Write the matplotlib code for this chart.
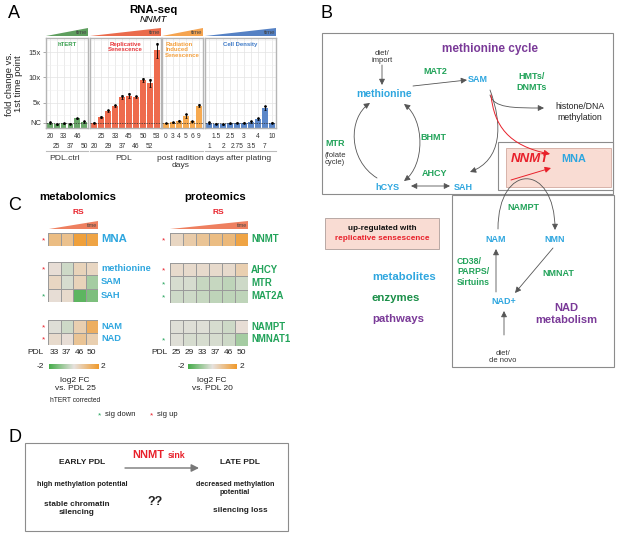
import numpy as np
import matplotlib
matplotlib.use("Agg")
import matplotlib.pyplot as plt
from matplotlib.patches import Polygon, Rectangle, FancyArrowPatch
from matplotlib.path import Path
from matplotlib.colors import LinearSegmentedColormap, Normalize
from matplotlib.cm import ScalarMappable

plt.rcParams['font.family'] = ['Liberation Sans', 'DejaVu Sans']

W, H = 617, 533

# ---- panel A data (fold change vs 1st time point)
htert_lab = ["20", "25", "33", "37", "46", "50"]
htert_fc = [1.0, 0.7, 0.9, 0.8, 1.9, 1.2]
htert_err = [0.15, 0.1, 0.1, 0.1, 0.15, 0.15]
rs_lab = ["20", "25", "29", "33", "37", "45", "46", "50", "52", "53"]
rs_fc = [1.0, 2.1, 3.4, 4.3, 6.1, 6.4, 6.2, 9.4, 8.9, 15.4]
rs_err = [0.1, 0.2, 0.2, 0.2, 0.4, 0.5, 0.2, 0.4, 0.8, 1.5]
rad_lab = ["0", "3", "4", "5", "6", "9"]
rad_fc = [1.0, 1.1, 1.4, 2.4, 1.3, 4.4]
rad_err = [0.05, 0.1, 0.1, 0.4, 0.1, 0.3]
cd_lab = ["1", "1.5", "2", "2.5", "2.75", "3", "3.5", "4", "7", "10"]
cd_fc = [1.0, 0.8, 0.7, 0.9, 1.0, 1.0, 1.2, 1.8, 4.0, 1.0]
cd_err = [0.15, 0.1, 0.1, 0.1, 0.1, 0.1, 0.15, 0.2, 0.4, 0.1]

# ---- panel C data (log2 FC)
met_pdl = ["33", "37", "46", "50"]
met_mna = [[1.0, 0.9, 1.8, 1.7]]
met_cycle = [[0.1, -0.3, 0.4, 0.3],
             [0.3, -0.2, 0.4, -0.8],
             [0.1, 0.2, -1.7, -1.3]]
met_nad = [[-0.1, -0.3, 0.5, 1.4],
           [0.2, 0.1, 0.8, 0.5]]
prot_pdl = ["25", "29", "33", "37", "46", "50"]
prot_nnmt = [[0.3, 0.6, 0.8, 1.0, 1.1, 1.7]]
prot_cycle = [[0.2, 0.2, 0.2, 0.2, 0.2, 0.5],
              [-0.2, -0.2, -0.4, -0.4, -0.5, -0.3],
              [-0.3, -0.3, -0.4, -0.5, -0.5, -0.5]]
prot_nad = [[-0.1, -0.1, -0.1, -0.2, -0.3, 0.1],
            [-0.1, -0.2, -0.2, -0.2, -0.3, -0.8]]

BLUE = '#2ea6df'
GREEN = '#22a35a'
PURPLE = '#7a3a98'
RED = '#e8202a'
PINK = '#f9dcd3'
GREY = '#555555'

fig = plt.figure(figsize=(W / 100, H / 100), dpi=100)
ov = fig.add_axes([0, 0, 1, 1])
ov.set_xlim(0, W)
ov.set_ylim(H, 0)
ov.axis('off')


def px_axes(x0, y0, x1, y1):
    return fig.add_axes([x0 / W, 1 - y1 / H, (x1 - x0) / W, (y1 - y0) / H])


def arr(p0, p1, ctrl=None, color=GREY, style='-|>', lw=0.6, ms=7):
    st = style + ',head_length=0.5,head_width=0.25'
    if ctrl is None:
        a = FancyArrowPatch(p0, p1, arrowstyle=st, mutation_scale=ms,
                            color=color, lw=lw, shrinkA=0, shrinkB=0, zorder=4)
    else:
        path = Path([p0, ctrl[0], ctrl[1], p1],
                    [Path.MOVETO, Path.CURVE4, Path.CURVE4, Path.CURVE4])
        a = FancyArrowPatch(path=path, arrowstyle=st, mutation_scale=ms,
                            color=color, lw=lw, zorder=4)
    ov.add_patch(a)


def wedge(x0, x1, y0, y1, col, label=True):
    ov.add_patch(Polygon([(x0, y1), (x1, y1), (x1, y0)], closed=True,
                         facecolor=col, edgecolor='none'))
    if label:
        ov.text(x1 - 1, y1 - 1, 'time', fontsize=4.3, ha='right', va='bottom',
                color='#444444')


# ================= A =================
ov.text(8, 13, 'A', fontsize=13, va='center')
ov.text(153, 10, 'RNA-seq', fontsize=8.2, fontweight='bold', ha='center', va='center')
ov.text(153, 19, 'NNMT', fontsize=6.8, style='italic', ha='center', va='center')
ov.text(14, 84, 'fold change vs.\n1st time point', fontsize=6.8, rotation=90,
        ha='center', va='center', linespacing=1.1, color='#222222')

facets = [
    (46, 88, htert_lab, htert_fc, htert_err, '#6aa86a', '#5e9e5e', 'hTERT', '#3aa050', 'PDL.ctrl', 'alt0'),
    (90, 161, rs_lab, rs_fc, rs_err, '#ee6b4d', '#ea6b4c', 'Replicative\nSenescence', '#e8363a', 'PDL', 'alt1'),
    (162, 203, rad_lab, rad_fc, rad_err, '#f7aa50', '#f5a450', 'Radiation\nInduced\nSenescence', '#f5a03c', 'post radition\ndays', 'one'),
    (205, 276, cd_lab, cd_fc, cd_err, '#5b87c9', '#5581c4', 'Cell Density', '#3f7bc8', 'days after plating', 'alt1'),
]
for i, (x0, x1, labs, fc, err, col, tcol, title, titcol, grp, mode) in enumerate(facets):
    ax = px_axes(x0, 38, x1, 128)
    n = len(fc)
    xs = np.arange(n)
    ax.bar(xs, fc, width=0.82, color=col, zorder=2)
    ax.errorbar(xs, fc, yerr=err, fmt='none', ecolor='black', elinewidth=0.6,
                capsize=0.8, capthick=0.5, zorder=3)
    ax.scatter(xs, np.array(fc) + np.array(err) * 0.8, s=0.8, c='black', zorder=4)
    ax.axhline(1, ls='--', color='#333333', lw=0.5, dashes=(2, 1.5), zorder=3)
    ax.set_xlim(-0.6, n - 0.4)
    ax.set_ylim(0, 17.8)
    ax.set_xticks(xs)
    ax.set_yticks([1, 5, 10, 15])
    ax.set_yticks([2.5, 7.5, 12.5, 17.5], minor=True)
    ax.grid(True, which='major', color='#e3e3e3', lw=0.5, zorder=0)
    ax.grid(True, which='minor', axis='y', color='#f0f0f0', lw=0.4, zorder=0)
    ax.set_axisbelow(True)
    for s in ax.spines.values():
        s.set_color('#b5b5b5')
        s.set_linewidth(1.0)
    ax.tick_params(bottom=False, labelbottom=False, which='both')
    if i == 0:
        ax.set_yticklabels(['NC', '5x', '10x', '15x'], fontsize=5.5, color='#333333')
        ax.tick_params(axis='y', length=2, width=0.5, pad=1.5, color='#888888')
        ax.tick_params(axis='y', which='minor', length=0)
    else:
        ax.tick_params(left=False, labelleft=False, which='both')
    tr = ax.get_xaxis_transform()
    for j, lb in enumerate(labs):
        if mode == 'one':
            yy = -0.1
        elif mode == 'alt0':
            yy = -0.1 if j % 2 == 0 else -0.2
        else:
            yy = -0.1 if j % 2 == 1 else -0.2
        ax.text(j, yy, lb, transform=tr, fontsize=4.8, ha='center', va='center',
                color='#333333')
    if title == 'Radiation\nInduced\nSenescence':
        ax.text(0.08, 0.96, title, transform=ax.transAxes, fontsize=4.3, ha='left',
                va='top', color=titcol, fontweight='bold', linespacing=1.2)
    else:
        ax.text(0.5, 0.96, title, transform=ax.transAxes, fontsize=4.3, ha='center',
                va='top', color=titcol, fontweight='bold', linespacing=1.2)
    wedge(x0, x1, 28, 36, tcol)
    ov.plot([x0, x1], [151, 151], color='#bbbbbb', lw=0.8)
    ov.text((x0 + x1) / 2 - 2, 155, grp, fontsize=6.1, ha='center', va='top',
            color='#333333', linespacing=1.0)

# ================= B =================
ov.text(320, 13, 'B', fontsize=13, va='center')
ov.add_patch(Rectangle((322, 33), 291, 161, fill=False, edgecolor='#8c8c8c', lw=0.8))
ov.add_patch(Rectangle((498, 142), 115, 48, facecolor='white', edgecolor='#8c8c8c', lw=0.8, zorder=2))
ov.add_patch(Rectangle((506, 148), 105, 39, facecolor=PINK, edgecolor='#d2aaa0', lw=0.6, zorder=2))
ov.add_patch(Rectangle((452, 195), 162, 172, fill=False, edgecolor='#8c8c8c', lw=0.8))
ov.add_patch(Rectangle((325, 218), 114, 31, facecolor=PINK, edgecolor='#b8a8a4', lw=0.7))

bold = dict(fontweight='bold', ha='center', va='center')
ov.text(490, 49, 'methionine cycle', fontsize=8.5, color=PURPLE, **bold)
ov.text(382, 57, 'diet/\nimport', fontsize=5.5, color='#333333', ha='center', va='center', linespacing=1.1)
ov.text(435, 71, 'MAT2', fontsize=6.5, color=GREEN, **bold)
ov.text(478, 79, 'SAM', fontsize=6.5, color=BLUE, **bold)
ov.text(384, 94, 'methionine', fontsize=7.5, color=BLUE, **bold)
ov.text(532, 82, 'HMTs/\nDNMTs', fontsize=6.5, color=GREEN, linespacing=1.2, **bold)
ov.text(580, 112, 'histone/DNA\nmethylation', fontsize=6.3, color='#222222', ha='center', va='center', linespacing=1.2)
ov.text(433, 138, 'BHMT', fontsize=6.5, color=GREEN, **bold)
ov.text(335, 144, 'MTR', fontsize=6.5, color=GREEN, **bold)
ov.text(335, 159, '(folate\ncycle)', fontsize=5.5, color='#333333', ha='center', va='center', linespacing=1.1)
ov.text(435, 174, 'AHCY', fontsize=6.5, color=GREEN, **bold)
ov.text(387, 187, 'hCYS', fontsize=6.5, color=BLUE, **bold)
ov.text(463, 187, 'SAH', fontsize=6.5, color=BLUE, **bold)
ov.text(530, 159, 'NNMT', fontsize=9.5, color=RED, style='italic', zorder=3, **bold)
ov.text(574, 159, 'MNA', fontsize=7.8, color=BLUE, zorder=3, **bold)
ov.text(382, 228, 'up-regulated with', fontsize=5.9, color='#111111', **bold)
ov.text(382, 239, 'replicative sensescence', fontsize=5.9, color=RED, **bold)
ov.text(372, 277, 'metabolites', fontsize=8.2, color=BLUE, fontweight='bold', ha='left', va='center')
ov.text(372, 298, 'enzymes', fontsize=8.2, color='#1a8f48', fontweight='bold', ha='left', va='center')
ov.text(372, 319, 'pathways', fontsize=8.2, color=PURPLE, fontweight='bold', ha='left', va='center')
ov.text(523, 208, 'NAMPT', fontsize=6.5, color=GREEN, **bold)
ov.text(496, 239, 'NAM', fontsize=6.5, color=BLUE, **bold)
ov.text(555, 239, 'NMN', fontsize=6.5, color=BLUE, **bold)
ov.text(457, 272, 'CD38/\nPARPS/\nSirtuins', fontsize=6.3, color=GREEN, fontweight='bold',
        ha='left', va='center', linespacing=1.2)
ov.text(558, 273, 'NMNAT', fontsize=6.5, color=GREEN, **bold)
ov.text(504, 301, 'NAD+', fontsize=6.5, color=BLUE, **bold)
ov.text(566, 314, 'NAD\nmetabolism', fontsize=8, color=PURPLE, linespacing=1.15, **bold)
ov.text(503, 357, 'diet/\nde novo', fontsize=5.5, color='#333333', ha='center', va='center', linespacing=1.1)

# arrows of the cycles
arr((382, 65), (382, 85))
arr((413, 86), (467, 80))
arr((377, 178), (370, 103), ctrl=((348, 160), (348, 118)))
arr((404, 104), (404, 181), ctrl=((425, 120), (425, 165)), style='<|-|>')
arr((490, 90), (470, 172), ctrl=((503, 125), (502, 160)))
arr((490, 95), (544, 108), ctrl=((494, 108), (512, 108)))
arr((411, 186), (450, 186), style='<|-|>')
arr((491, 95), (550, 154), ctrl=((494, 125), (508, 146)), color=RED, lw=0.7)
arr((498, 229), (555, 230), ctrl=((498, 162), (555, 162)))
arr((511, 180), (551, 168), color=RED, lw=0.7)
arr((496, 292), (496, 249))
arr((553, 248), (515, 293))
arr((504, 335), (504, 311))

# ================= C =================
ov.text(8, 206, 'C', fontsize=13, va='center')
ov.text(78, 197, 'metabolomics', fontsize=8.2, fontweight='bold', ha='center', va='center')
ov.text(215, 197, 'proteomics', fontsize=8.2, fontweight='bold', ha='center', va='center')
ov.text(78, 213, 'RS', fontsize=6, color=RED, fontweight='bold', ha='center', va='center')
ov.text(218, 213, 'RS', fontsize=6, color=RED, fontweight='bold', ha='center', va='center')
wedge(49, 98, 221, 229, '#ee8060', label=False)
wedge(170, 248, 221, 229, '#ee8060', label=False)
ov.text(97, 228, 'time', fontsize=3.8, ha='right', va='bottom', color='#444444')
ov.text(247, 228, 'time', fontsize=3.8, ha='right', va='bottom', color='#444444')

cmap = LinearSegmentedColormap.from_list('gwo', ['#45ad4a', '#e6e1de', '#f0992a'])


def heat(x0, y0, x1, y1, data, names, stars, lab_x, star_x, lab_col, lab_fs):
    ax = px_axes(x0, y0, x1, y1)
    d = np.array(data)
    ax.pcolormesh(d, cmap=cmap, vmin=-2, vmax=2, edgecolors='#9a9a9a', linewidth=0.6)
    ax.set_xlim(0, d.shape[1])
    ax.set_ylim(d.shape[0], 0)
    ax.axis('off')
    rh = (y1 - y0) / d.shape[0]
    for r, (nm, st) in enumerate(zip(names, stars)):
        yc = y0 + rh * (r + 0.5)
        ov.text(lab_x, yc, nm, fontsize=lab_fs, color=lab_col, fontweight='bold',
                ha='left', va='center')
        if st:
            ov.text(star_x, yc + 1.5, '*', fontsize=6, color=RED if st == 'up' else GREEN,
                    ha='center', va='center')


heat(48, 233, 98, 246, met_mna, ['MNA'], ['up'], 101, 44, BLUE, 8.2)
heat(48, 262, 98, 302, met_cycle, ['methionine', 'SAM', 'SAH'], ['up', '', 'down'], 101, 44, BLUE, 6.7)
heat(48, 320, 98, 345, met_nad, ['NAM', 'NAD'], ['up', 'up'], 101, 44, BLUE, 6.7)
heat(170, 233, 248, 246, prot_nnmt, ['NNMT'], ['up'], 251, 164, GREEN, 6.9)
heat(170, 263, 248, 303, prot_cycle, ['AHCY', 'MTR', 'MAT2A'], ['up', 'down', 'down'], 251, 164, GREEN, 6.9)
heat(170, 320, 248, 346, prot_nad, ['NAMPT', 'NMNAT1'], ['', 'down'], 251, 164, GREEN, 6.9)

ov.text(35, 352, 'PDL', fontsize=6, ha='center', va='center', color='#222222')
for k, p in enumerate(met_pdl):
    ov.text(48 + 12.5 * (k + 0.5), 352, p, fontsize=6, ha='center', va='center', color='#222222')
ov.text(159, 352, 'PDL', fontsize=6, ha='center', va='center', color='#222222')
for k, p in enumerate(prot_pdl):
    ov.text(170 + 13 * (k + 0.5), 352, p, fontsize=6, ha='center', va='center', color='#222222')

for cx0, cx1, lm, rm in [(49, 99, 40, 103), (188, 237, 181, 242)]:
    cax = px_axes(cx0, 364, cx1, 369)
    cb = fig.colorbar(ScalarMappable(norm=Normalize(-2, 2), cmap=cmap), cax=cax,
                      orientation='horizontal')
    cb.outline.set_visible(False)
    cax.set_xticks([])
    ov.text(lm, 366.5, '-2', fontsize=6, ha='center', va='center', color='#222222')
    ov.text(rm, 366.5, '2', fontsize=6, ha='center', va='center', color='#222222')

ov.text(75, 385, 'log2 FC\nvs. PDL 25', fontsize=6, ha='center', va='center', linespacing=1.2, color='#222222')
ov.text(75, 401, 'hTERT corrected', fontsize=4.8, ha='center', va='center', color='#222222')
ov.text(212, 385, 'log2 FC\nvs. PDL 20', fontsize=6, ha='center', va='center', linespacing=1.2, color='#222222')
ov.text(100, 416, '*', fontsize=6, color=GREEN, ha='center', va='center')
ov.text(105, 414, 'sig down', fontsize=5.5, ha='left', va='center', color='#222222')
ov.text(152, 416, '*', fontsize=6, color=RED, ha='center', va='center')
ov.text(157, 414, 'sig up', fontsize=5.5, ha='left', va='center', color='#222222')

# ================= D =================
ov.text(8, 438, 'D', fontsize=13, va='center')
ov.add_patch(Rectangle((25, 443), 263, 88, fill=False, edgecolor='#8c8c8c', lw=0.8))
ov.text(82, 463, 'EARLY PDL', fontsize=6, fontweight='bold', ha='center', va='center', color='#222222')
ov.text(240, 463, 'LATE PDL', fontsize=6, fontweight='bold', ha='center', va='center', color='#222222')
ov.text(148, 455, 'NNMT', fontsize=8, fontweight='bold', ha='center', va='center', color=RED)
ov.text(176, 456, 'sink', fontsize=6.3, fontweight='bold', ha='center', va='center', color=RED)
arr((125, 468), (199, 468), color='#777777', lw=1.0, ms=9)
ov.text(82, 484, 'high methylation potential', fontsize=5.2, fontweight='bold', ha='center', va='center', color='#222222')
ov.text(77, 508, 'stable chromatin\nsilencing', fontsize=5.9, fontweight='bold', ha='center', va='center',
        linespacing=1.2, color='#222222')
ov.text(155, 502, '??', fontsize=9, fontweight='bold', ha='center', va='center', color='#222222')
ov.text(235, 489, 'decreased methylation\npotential', fontsize=5.2, fontweight='bold', ha='center', va='center',
        linespacing=1.2, color='#222222')
ov.text(240, 510, 'silencing loss', fontsize=5.9, fontweight='bold', ha='center', va='center', color='#222222')

fig.savefig('out.png', dpi=100)
